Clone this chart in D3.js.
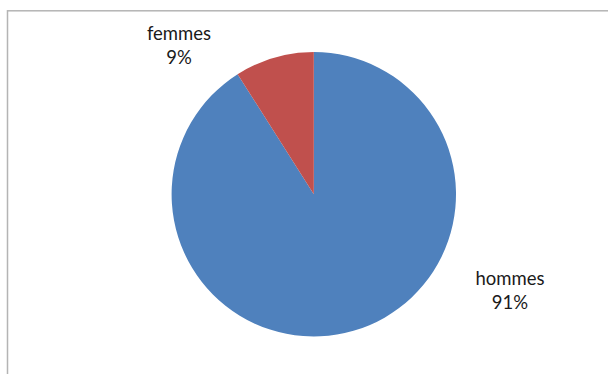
<!DOCTYPE html>
<html>
<head>
<meta charset="utf-8">
<script src="https://cdn.jsdelivr.net/npm/d3@7"></script>
<style>
  html, body { margin: 0; padding: 0; background: #ffffff; }
  svg { display: block; }
</style>
</head>
<body>
<svg id="chart" width="608" height="374"></svg>
<script>
// Répartition par sexe
const categories = ["hommes", "femmes"];
const values = [91, 9];
const percentLabels = ["91%", "9%"];
const colors = ["#4F81BD", "#C0504D"];

const W = 608, H = 374;
const svg = d3.select("#chart");

// chart frame (its right and bottom edges run past the visible area)
svg.append("rect")
  .attr("x", 7.5).attr("y", 10.8)
  .attr("width", 640).attr("height", 400)
  .attr("fill", "none")
  .attr("stroke", "#b4b4b4")
  .attr("stroke-width", 1.5);

const cx = 313.8, cy = 194.3, radius = 142.2;

const pie = d3.pie()
  .sort(null)
  .value(d => d.value)
  .startAngle(0)
  .endAngle(2 * Math.PI);

const data = categories.map((c, i) => ({ name: c, value: values[i], label: percentLabels[i], color: colors[i] }));
const arcs = pie(data);

const arc = d3.arc().innerRadius(0).outerRadius(radius);

const g = svg.append("g").attr("transform", `translate(${cx},${cy})`);

g.selectAll("path.slice")
  .data(arcs)
  .join("path")
  .attr("class", "slice")
  .attr("d", arc)
  .attr("fill", d => d.data.color)
  .attr("stroke", "none");

// data labels placed outside the pie ("best fit" layout)
const labelPos = {
  hommes: { x: 510, y: 284.5 },
  femmes: { x: 179, y: 39.5 }
};

const labels = svg.selectAll("text.lbl")
  .data(arcs)
  .join("text")
  .attr("class", "lbl")
  .attr("text-anchor", "middle")
  .attr("font-family", "Lato, 'Open Sans', sans-serif")
  .attr("font-size", 18.5)
  .attr("fill", "#1a1a1a")
  .attr("x", d => labelPos[d.data.name].x)
  .attr("y", d => labelPos[d.data.name].y);

labels.append("tspan")
  .attr("x", d => labelPos[d.data.name].x)
  .text(d => d.data.name);

labels.append("tspan")
  .attr("x", d => labelPos[d.data.name].x)
  .attr("dy", 24)
  .text(d => d.data.label);
</script>
</body>
</html>
